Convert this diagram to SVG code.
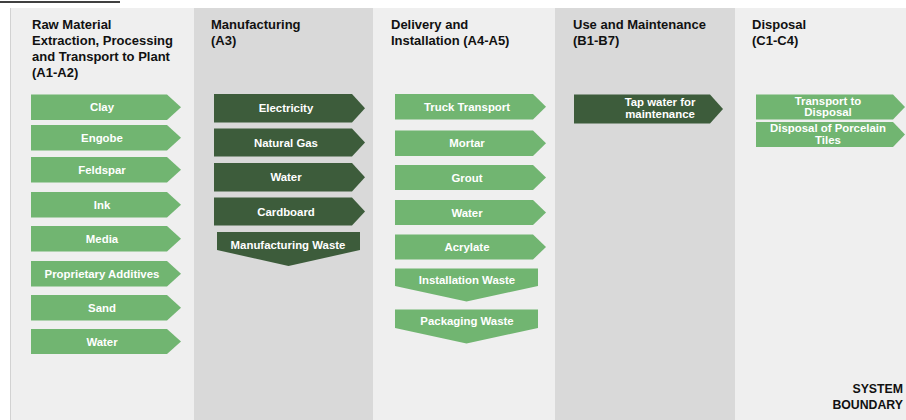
<svg xmlns="http://www.w3.org/2000/svg" width="906" height="420" viewBox="0 0 906 420">
<style>
.hdr{font-family:"Liberation Sans",Arial,Helvetica,sans-serif;font-weight:bold;font-size:13px;fill:#111}
.lbl{font-family:"Liberation Sans",Arial,Helvetica,sans-serif;font-weight:bold;font-size:11.4px;fill:#fff;text-anchor:middle}
.lt{fill:#71b571}
.dk{fill:#3d5c3b}
.sb{font-family:"Liberation Sans",Arial,Helvetica,sans-serif;font-weight:bold;font-size:12.3px;fill:#111;text-anchor:end}
</style>
<rect x="0" y="0" width="906" height="420" fill="#fff"/>
<line x1="0" y1="2" x2="120" y2="2" stroke="#000" stroke-width="1.4"/>
<g id="columns">
<rect x="10" y="8" width="184" height="412" fill="#efefef"/>
<line x1="10.5" y1="8" x2="10.5" y2="420" stroke="#d2d2d2" stroke-width="1"/>
<rect x="194" y="8" width="179" height="412" fill="#d9d9d9"/>
<rect x="373" y="8" width="182" height="412" fill="#efefef"/>
<rect x="555" y="8" width="180" height="412" fill="#d9d9d9"/>
<rect x="735" y="8" width="171" height="412" fill="#efefef"/>
</g>
<g id="headers">
<text class="hdr" x="32" y="28.5">Raw Material</text>
<text class="hdr" x="32" y="44.5">Extraction, Processing</text>
<text class="hdr" x="32" y="60.5">and Transport to Plant</text>
<text class="hdr" x="32" y="76.5">(A1-A2)</text>
<text class="hdr" x="211" y="28.5">Manufacturing</text>
<text class="hdr" x="211" y="44.5">(A3)</text>
<text class="hdr" x="391" y="28.5">Delivery and</text>
<text class="hdr" x="391" y="44.5">Installation (A4-A5)</text>
<text class="hdr" x="573" y="28.5">Use and Maintenance</text>
<text class="hdr" x="573" y="44.5">(B1-B7)</text>
<text class="hdr" x="752" y="28.5">Disposal</text>
<text class="hdr" x="752" y="44.5">(C1-C4)</text>
</g>
<g id="connectors"></g>
<g id="n-clay"><path class="lt" d="M31 94.5H167L181 107.25L167 120H31Z"/><text class="lbl" x="102" y="111.2">Clay</text></g>
<g id="n-engobe"><path class="lt" d="M31 125H167L181 137.75L167 150.5H31Z"/><text class="lbl" x="102" y="141.7">Engobe</text></g>
<g id="n-feldspar"><path class="lt" d="M31 157H167L181 169.75L167 182.5H31Z"/><text class="lbl" x="102" y="173.7">Feldspar</text></g>
<g id="n-ink"><path class="lt" d="M31 192H167L181 204.75L167 217.5H31Z"/><text class="lbl" x="102" y="208.7">Ink</text></g>
<g id="n-media"><path class="lt" d="M31 226H167L181 238.75L167 251.5H31Z"/><text class="lbl" x="102" y="242.7">Media</text></g>
<g id="n-additives"><path class="lt" d="M31 261H167L181 273.75L167 286.5H31Z"/><text class="lbl" x="102" y="277.7">Proprietary Additives</text></g>
<g id="n-sand"><path class="lt" d="M31 295H167L181 307.75L167 320.5H31Z"/><text class="lbl" x="102" y="311.7">Sand</text></g>
<g id="n-water1"><path class="lt" d="M31 329H167L181 341.5L167 354H31Z"/><text class="lbl" x="102" y="345.5">Water</text></g>
<g id="n-electricity"><path class="dk" d="M214 94H352L365 108.25L352 122.5H214Z"/><text class="lbl" x="286" y="112.3">Electricity</text></g>
<g id="n-gas"><path class="dk" d="M214 128.5H352L365 142.5L352 156.5H214Z"/><text class="lbl" x="286" y="146.5">Natural Gas</text></g>
<g id="n-water2"><path class="dk" d="M214 163H352L365 177.25L352 191.5H214Z"/><text class="lbl" x="286" y="181.3">Water</text></g>
<g id="n-cardboard"><path class="dk" d="M214 197.5H352L365 211.5L352 225.5H214Z"/><text class="lbl" x="286" y="215.5">Cardboard</text></g>
<g id="n-mwaste"><path class="dk" d="M217 232H360V250L288.5 266L217 250Z"/><text class="lbl" x="288" y="248.5">Manufacturing Waste</text></g>
<g id="n-truck"><path class="lt" d="M395 94H533L546 106.75L533 119.5H395Z"/><text class="lbl" x="467" y="110.8">Truck Transport</text></g>
<g id="n-mortar"><path class="lt" d="M395 130.5H533L546 143.25L533 156H395Z"/><text class="lbl" x="467" y="147.3">Mortar</text></g>
<g id="n-grout"><path class="lt" d="M395 165H533L546 177.5L533 190H395Z"/><text class="lbl" x="467" y="181.6">Grout</text></g>
<g id="n-water3"><path class="lt" d="M395 200H533L546 212.5L533 225H395Z"/><text class="lbl" x="467" y="216.6">Water</text></g>
<g id="n-acrylate"><path class="lt" d="M395 234.5H533L546 247L533 259.5H395Z"/><text class="lbl" x="467" y="251.1">Acrylate</text></g>
<g id="n-iwaste"><path class="lt" d="M395 268.5H538V286L466.5 301.5L395 286Z"/><text class="lbl" x="467" y="284">Installation Waste</text></g>
<g id="n-pwaste"><path class="lt" d="M395 309.5H538V328L466.5 343.5L395 328Z"/><text class="lbl" x="467" y="325">Packaging Waste</text></g>
<g id="n-tap"><path class="dk" d="M574 94.5H710L723 109L710 123.5H574Z"/><text class="lbl" x="660" y="105.5">Tap water for</text><text class="lbl" x="660" y="117.5">maintenance</text></g>
<g id="n-transport"><path class="lt" d="M756 94.5H893L905 107L893 119.5H756Z"/><text class="lbl" x="828" y="104.5">Transport to</text><text class="lbl" x="828" y="116">Disposal</text></g>
<g id="n-disposal"><path class="lt" d="M756 122H893L905 134.5L893 147H756Z"/><text class="lbl" x="828" y="131.5">Disposal of Porcelain</text><text class="lbl" x="828" y="143.5">Tiles</text></g>
<g id="boundary"><text class="sb" x="903" y="393">SYSTEM</text><text class="sb" x="903" y="409">BOUNDARY</text></g>
</svg>
